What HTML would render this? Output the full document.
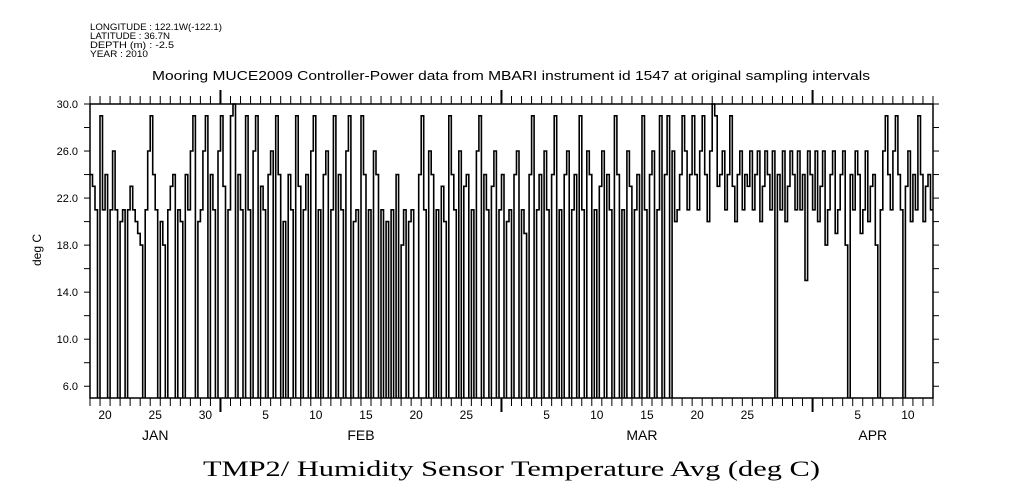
<!DOCTYPE html>
<html><head><meta charset="utf-8">
<style>
body{margin:0;background:#fff;width:1009px;height:504px;overflow:hidden}
svg{display:block}
text{font-family:"Liberation Sans",sans-serif;fill:#000}
</style></head>
<body>
<svg id="chart" width="1009" height="504" viewBox="0 0 1009 504">
<g font-size="9">
<text x="90" y="30" textLength="132" lengthAdjust="spacingAndGlyphs">LONGITUDE : 122.1W(-122.1)</text>
<text x="90" y="39" textLength="80" lengthAdjust="spacingAndGlyphs">LATITUDE : 36.7N</text>
<text x="90" y="48" textLength="84" lengthAdjust="spacingAndGlyphs">DEPTH (m) : -2.5</text>
<text x="90" y="57" textLength="58" lengthAdjust="spacingAndGlyphs">YEAR : 2010</text>
</g>
<text x="152" y="80" textLength="718" lengthAdjust="spacingAndGlyphs" font-size="13">Mooring MUCE2009 Controller-Power data from MBARI instrument id 1547 at original sampling intervals</text>
<text transform="translate(41,250) rotate(-90)" text-anchor="middle" font-size="12">deg C</text>
<text x="203" y="476" textLength="617" lengthAdjust="spacingAndGlyphs" font-size="22" style="font-family:'Liberation Serif',serif">TMP2/ Humidity Sensor Temperature Avg (deg C)</text>
<defs><clipPath id="pc"><rect x="90" y="102" width="843" height="296"/></clipPath></defs>
<g id="axes"></g>
<path id="series" fill="none" stroke="#000" stroke-width="1.6" clip-path="url(#pc)"/>
<rect x="90" y="104" width="843" height="294" fill="none" stroke="#000" stroke-width="1.5"/>
</svg>
<script>
const startDay = 18;
const stepDays = 0.25;
const yTicks = [6,8,10,12,14,16,18,20,22,24,26,28,30];
const yLabels = ["6.0","10.0","14.0","18.0","22.0","26.0","30.0"];
const dayLabels = [[19,"20"],[24,"25"],[29,"30"],[35,"5"],[40,"10"],[45,"15"],[50,"20"],[55,"25"],[63,"5"],[68,"10"],[73,"15"],[78,"20"],[83,"25"],[94,"5"],[99,"10"]];
const monthLabels = [[24.5,"JAN"],[45,"FEB"],[73,"MAR"],[96,"APR"]];
const monthStarts = [31,59,90];
const temps = [
24,23,21,0,29,21,24,0,21,26,21,0,
20,21,0,21,23,21,20,19,18,0,21,26,
29,24,21,0,20,18,0,21,23,24,0,21,
20,0,24,21,26,29,0,20,21,26,29,0,
24,21,0,26,29,23,0,21,29,30,0,24,
21,0,29,21,0,26,29,0,23,21,0,24,
26,0,29,24,0,20,0,24,21,0,29,23,
0,21,24,0,26,29,0,21,0,24,26,0,
21,29,0,24,21,0,26,29,0,20,21,0,
29,24,0,21,0,26,24,0,21,0,20,0,
21,0,24,0,18,21,0,20,21,0,0,24,
29,21,0,26,24,0,21,0,23,20,0,29,
24,21,0,26,0,23,24,0,21,0,26,29,
0,24,21,0,23,26,0,21,24,0,20,21,
0,24,26,0,21,19,0,24,29,0,21,24,
0,26,21,0,24,29,0,21,0,24,26,0,
21,24,0,29,21,0,26,24,0,21,0,23,
26,0,24,21,0,29,24,0,21,0,26,23,
0,21,24,0,29,21,0,24,26,0,21,29,
0,24,29,0,26,20,21,24,29,26,21,24,
29,24,21,26,29,24,20,26,30,29,23,24,
26,21,24,29,23,20,24,26,21,24,23,26,
21,24,26,20,23,26,24,21,26,0,24,21,
26,20,23,26,24,21,26,21,24,15,26,24,
21,26,20,23,26,18,21,24,26,19,21,24,
26,18,0,24,21,26,24,19,21,26,20,23,
24,18,0,21,26,29,24,21,26,29,24,21,
0,23,26,20,24,21,29,24,20,23,24,21];

const X0=90,X1=933,Y0=398,Y1=104,T0=18,T1=102,V0=5,V1=30;
function xs(t){return X0+(t-T0)/(T1-T0)*(X1-X0);}
function ys(v){return Y0-(v-V0)/(V1-V0)*(Y0-Y1);}
const NS="http://www.w3.org/2000/svg";
const ax=document.getElementById('axes');
function mk(tag,attrs,parent){const e=document.createElementNS(NS,tag);for(const k in attrs)e.setAttribute(k,attrs[k]);(parent||ax).appendChild(e);return e;}
yTicks.forEach(v=>{
  const l=mk('line',{x1:84,x2:90,y1:ys(v),y2:ys(v),stroke:'#000'});
  
  
  const r=mk('line',{x1:933,x2:939,y1:ys(v),y2:ys(v),stroke:'#000'});
  
  
});
yLabels.forEach(s=>{
  const t=mk('text',{x:78,y:ys(parseFloat(s))+4,'text-anchor':'end','font-size':11});
  t.textContent=s;
  
  
});
for(let d=T0;d<=T1;d++){
  const big=monthStarts.includes(d);
  const b=mk('line',{x1:xs(d),x2:xs(d),y1:Y0,y2:Y0+(big?14:8),stroke:'#000','stroke-width':big?2:1});
  
  
  const tp=mk('line',{x1:xs(d),x2:xs(d),y1:Y1,y2:Y1-(big?14:8),stroke:'#000','stroke-width':big?2:1});
  
  
}
dayLabels.forEach(([d,s])=>{
  const t=mk('text',{x:xs(d+0.5),y:419,'text-anchor':'middle','font-size':12});
  t.textContent=s;
  
  
});
monthLabels.forEach(([d,s])=>{
  const t=mk('text',{x:xs(d),y:440,'text-anchor':'middle','font-size':14});
  t.textContent=s;
  
  
});
let dstr='';
temps.forEach((v,i)=>{
  const xa=xs(startDay+i*stepDays), xb=xs(startDay+(i+1)*stepDays);
  const yy=Math.min(Math.max(ys(v),Y1-2),Y0+2);
  dstr+=(i===0?'M':'L')+xa.toFixed(1)+','+yy.toFixed(1)+'L'+xb.toFixed(1)+','+yy.toFixed(1);
});
document.getElementById('series').setAttribute('d',dstr);
</script>
</body></html>
